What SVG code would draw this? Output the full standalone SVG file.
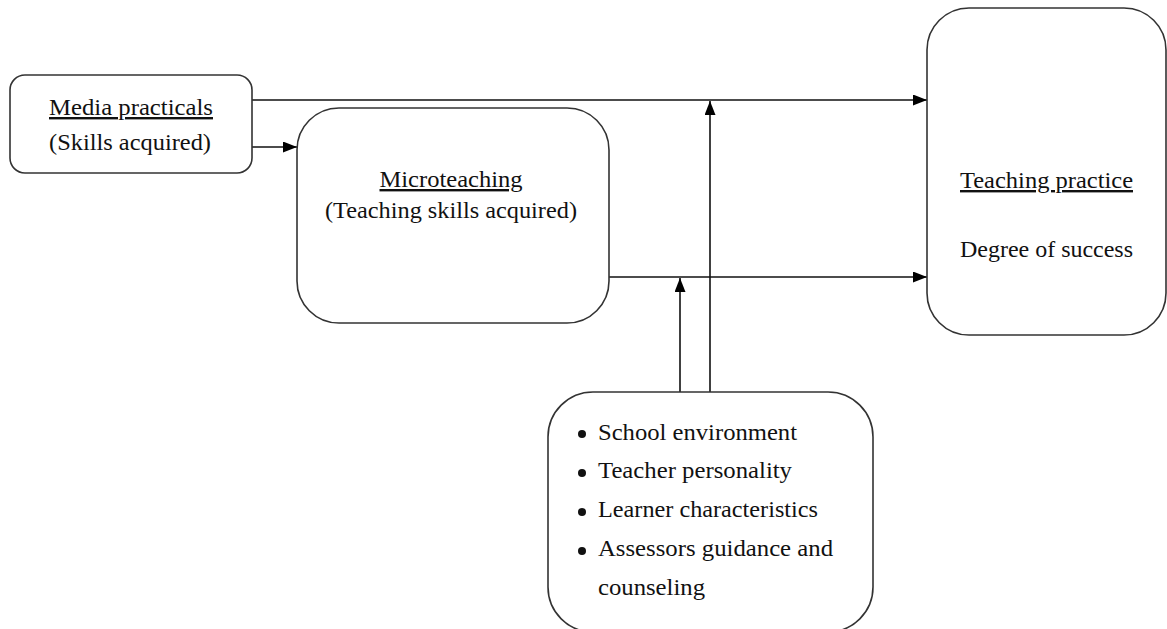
<svg xmlns="http://www.w3.org/2000/svg" width="1167" height="629" viewBox="0 0 1167 629">
<defs>
<marker id="ah" viewBox="0 0 14 11" refX="14" refY="5.5" markerWidth="14" markerHeight="11" markerUnits="userSpaceOnUse" orient="auto">
<path d="M0,0 L14,5.5 L0,11 Z" fill="#000"/>
</marker>
<style>
.box{fill:#fff;stroke:#333;stroke-width:1.6}
.t{font-family:"Liberation Serif","Times New Roman",serif;font-size:24px;fill:#111}
.c{text-anchor:middle}
.u{text-decoration:underline}
.ln{stroke:#111;stroke-width:1.6;fill:none;marker-end:url(#ah)}
</style>
</defs>
<rect width="1167" height="629" fill="#fff"/>
<g id="connectors">
<line class="ln" x1="252" y1="100" x2="927" y2="100"/>
<line class="ln" x1="252" y1="147" x2="297" y2="147"/>
<line class="ln" x1="609" y1="277" x2="927" y2="277"/>
<line class="ln" x1="680" y1="392" x2="680" y2="278"/>
<line class="ln" x1="710" y1="392" x2="710" y2="101"/>
</g>
<g id="media">
<rect class="box" x="10" y="75" width="242" height="98" rx="15"/>
<text class="t c u" x="131" y="115" textLength="164" lengthAdjust="spacingAndGlyphs">Media practicals</text>
<text class="t c" x="130" y="150" textLength="162" lengthAdjust="spacingAndGlyphs">(Skills acquired)</text>
</g>
<g id="micro">
<rect class="box" x="297" y="108" width="312" height="215" rx="42"/>
<text class="t c u" x="451" y="187" textLength="143" lengthAdjust="spacingAndGlyphs">Microteaching</text>
<text class="t c" x="451" y="218" textLength="252" lengthAdjust="spacingAndGlyphs">(Teaching skills acquired)</text>
</g>
<g id="practice">
<rect class="box" x="927" y="8" width="239" height="327" rx="42"/>
<text class="t c u" x="1046.5" y="188" textLength="173" lengthAdjust="spacingAndGlyphs">Teaching practice</text>
<text class="t c" x="1046.5" y="257" textLength="173" lengthAdjust="spacingAndGlyphs">Degree of success</text>
</g>
<g id="factors">
<rect class="box" x="548" y="392" width="325" height="240" rx="45"/>
<circle cx="582" cy="434" r="4" fill="#111"/>
<circle cx="582" cy="473" r="4" fill="#111"/>
<circle cx="582" cy="512" r="4" fill="#111"/>
<circle cx="582" cy="551" r="4" fill="#111"/>
<text class="t" x="598" y="440" textLength="199" lengthAdjust="spacingAndGlyphs">School environment</text>
<text class="t" x="598" y="478" textLength="194" lengthAdjust="spacingAndGlyphs">Teacher personality</text>
<text class="t" x="598" y="517" textLength="220" lengthAdjust="spacingAndGlyphs">Learner characteristics</text>
<text class="t" x="598" y="556" textLength="235" lengthAdjust="spacingAndGlyphs">Assessors guidance and</text>
<text class="t" x="598" y="595" textLength="107" lengthAdjust="spacingAndGlyphs">counseling</text>
</g>
</svg>
